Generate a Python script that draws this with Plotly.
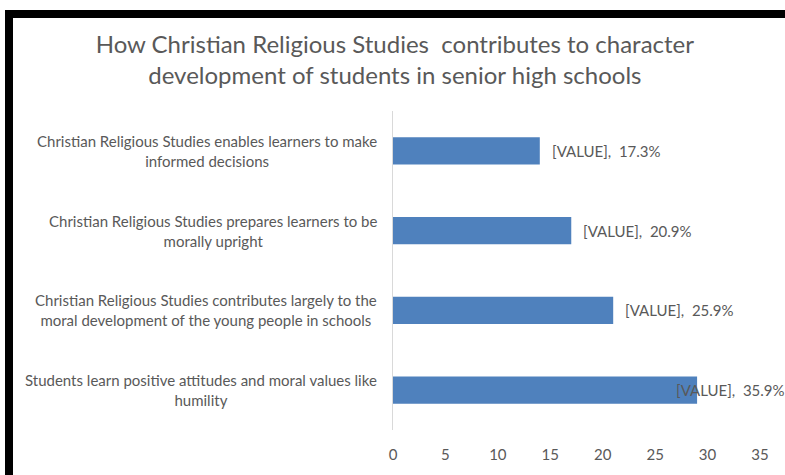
import plotly.graph_objects as go

categories = [
    "Christian Religious Studies enables learners to make<br>informed decisions",
    "Christian Religious Studies prepares learners to be<br>morally upright",
    "Christian Religious Studies contributes largely to the<br>moral development of the young people in schools",
    "Students learn positive attitudes and moral values like<br>humility",
]
values = [14, 17, 21, 29]
percent_labels = ["17.3%", "20.9%", "25.9%", "35.9%"]
tick_values = [0, 5, 10, 15, 20, 25, 30, 35]

FONT = "Lato, Carlito, Calibri, sans-serif"
GRAY = "#595959"

# plot area geometry (pixels)
L, R, T, B = 393, 25, 111, 45
W, H = 785, 475

fig = go.Figure()
fig.add_trace(go.Bar(
    y=list(range(len(categories))),
    x=values,
    orientation="h",
    marker=dict(color="#4F81BD", line=dict(width=0)),
    width=0.34,
    hoverinfo="skip",
))

annotations = []
label_shifts = [10, 10, 10, -23]
for i, (cat, v, p) in enumerate(zip(categories, values, percent_labels)):
    annotations.append(dict(
        x=0, y=i, xref="x", yref="y", text=cat, showarrow=False,
        xanchor="right", yanchor="middle", align="center", xshift=-14,
        font=dict(family=FONT, size=15, color=GRAY),
    ))
    annotations.append(dict(
        x=v, y=i, xref="x", yref="y", text="[VALUE],  " + p, showarrow=False,
        xanchor="left", yanchor="middle", xshift=label_shifts[i],
        font=dict(family=FONT, size=15, color=GRAY),
    ))

fig.update_layout(
    width=W, height=H,
    margin=dict(l=L, r=R, t=T, b=B),
    paper_bgcolor="white", plot_bgcolor="white",
    showlegend=False,
    title=dict(
        text="How Christian Religious Studies  contributes to character<br>development of students in senior high schools",
        x=0.503, xanchor="center", y=1 - 53 / H, yanchor="middle",
        font=dict(family=FONT, size=24, color=GRAY),
    ),
    xaxis=dict(
        range=[0, 35], tickvals=tick_values, showgrid=False, zeroline=False,
        showline=False, ticks="", tickfont=dict(family=FONT, size=15, color=GRAY),
        ticklabelstandoff=14, fixedrange=True,
    ),
    yaxis=dict(
        autorange="reversed", showticklabels=False, showgrid=False,
        zeroline=False, showline=True, linecolor="#D9D9D9", linewidth=1,
        ticks="", fixedrange=True,
    ),
    annotations=annotations,
)

# page frame drawn as CSS borders (left, top)
frame_css = (
    "document.body.style.margin='0';"
    "document.body.style.overflow='hidden';"
    "var f=document.createElement('div');"
    "f.style.cssText='position:fixed;left:5px;top:10px;width:800px;height:470px;"
    "border-left:8px solid black;border-top:8px solid black;border-bottom:3px solid black;"
    "box-sizing:border-box;pointer-events:none;z-index:10;';"
    "document.body.appendChild(f);"
)

fig.write_html(
    "out.html",
    config={"displayModeBar": False},
    post_script=frame_css,
)
